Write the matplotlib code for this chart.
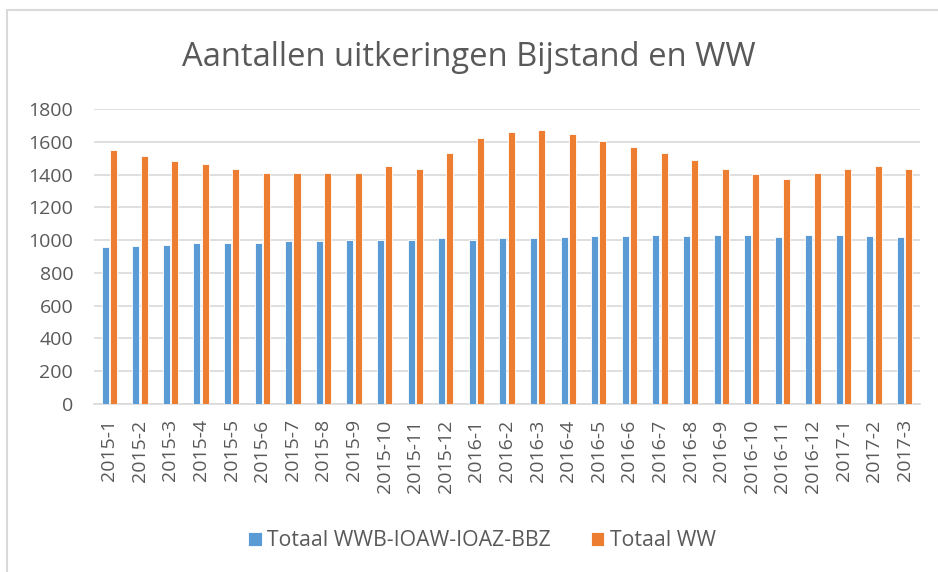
import matplotlib
matplotlib.use("Agg")
import matplotlib.pyplot as plt
import numpy as np
from matplotlib.patches import Rectangle

categories = ["2015-1", "2015-2", "2015-3", "2015-4", "2015-5", "2015-6", "2015-7", "2015-8",
              "2015-9", "2015-10", "2015-11", "2015-12", "2016-1", "2016-2", "2016-3", "2016-4",
              "2016-5", "2016-6", "2016-7", "2016-8", "2016-9", "2016-10", "2016-11", "2016-12",
              "2017-1", "2017-2", "2017-3"]
wwb = [958, 966, 972, 980, 980, 980, 997, 997, 1003, 1003, 1003, 1011, 1003, 1011, 1011, 1019,
       1025, 1025, 1033, 1025, 1033, 1033, 1019, 1033, 1033, 1025, 1019]
ww = [1552, 1513, 1483, 1467, 1434, 1412, 1412, 1412, 1412, 1450, 1434, 1530, 1621, 1662, 1670, 1646,
      1607, 1568, 1530, 1489, 1434, 1403, 1373, 1412, 1434, 1450, 1434]
series_names = ["Totaal WWB-IOAW-IOAZ-BBZ", "Totaal WW"]
title = "Aantallen uitkeringen Bijstand en WW"
yticks = [0, 200, 400, 600, 800, 1000, 1200, 1400, 1600, 1800]

blue = "#5B9BD5"
orange = "#ED7D31"
txt = "#595959"
plt.rcParams["font.family"] = ["Open Sans", "DejaVu Sans"]

W, H = 938, 572
fig = plt.figure(figsize=(W / 100, H / 100), dpi=100)
fig.patch.set_facecolor("white")
fig.patches.append(Rectangle((7 / W, -0.1), 1.2, 1 - 10 / H + 0.1, transform=fig.transFigure,
                             fill=False, edgecolor="#D9D9D9", linewidth=1.5))

left, right = 94 / W, 920 / W
bottom, top = 1 - 404 / H, 1 - 109 / H
ax = fig.add_axes([left, bottom, right - left, top - bottom])

x = np.arange(len(categories))
bw = 0.23
ax.bar(x - bw / 2 - 0.02, wwb, width=bw, color=blue, edgecolor="white", linewidth=0.6,
       label=series_names[0], zorder=3)
ax.bar(x + bw / 2 + 0.02, ww, width=bw, color=orange, edgecolor="white", linewidth=0.6,
       label=series_names[1], zorder=3)

ax.set_xlim(-0.5, len(categories) - 0.5)
ax.set_ylim(0, 1800)
ax.set_yticks(yticks)
ax.set_yticklabels([str(v) for v in yticks], fontsize=14, color=txt)
ax.set_xticks(x)
ax.set_xticklabels(categories, rotation=90, fontsize=14, color=txt)
ax.tick_params(axis="both", length=0)
ax.tick_params(axis="y", pad=15)
ax.tick_params(axis="x", pad=11)
ax.grid(axis="y", color="#D9D9D9", linewidth=1.2, zorder=0)
for s in ["top", "right", "left"]:
    ax.spines[s].set_visible(False)
ax.spines["bottom"].set_color("#D9D9D9")
ax.spines["bottom"].set_linewidth(1.2)

fig.text(0.5, 1 - 57 / H, title, ha="center", va="center", fontsize=23.6, color=txt)

leg = fig.legend(loc="center", bbox_to_anchor=(482 / W, 1 - 541 / H), ncol=2, frameon=False,
                 fontsize=15.3, handlelength=0.62, handleheight=0.62, handletextpad=0.25,
                 columnspacing=1.9)
for t in leg.get_texts():
    t.set_color(txt)

fig.savefig("out.png", dpi=100)
